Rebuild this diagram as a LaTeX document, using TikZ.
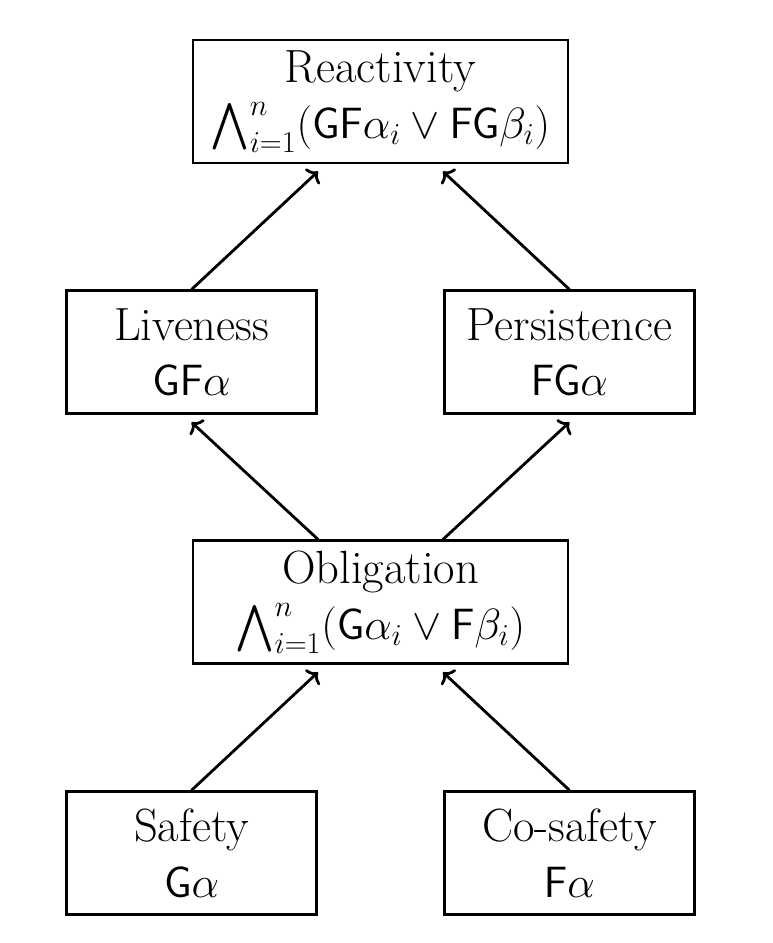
\documentclass[tikz,border=0pt]{standalone}
\usepackage{amsmath,amssymb}
\usepackage{tikz}
\usetikzlibrary{arrows.meta, positioning}

\begin{document}
\begin{tikzpicture}[node distance=2.5cm, auto]
    % Styles
    \tikzstyle{block} = [rectangle, draw, line width=1.6pt, minimum width=5cm, minimum height=2.46cm, align=center, font=\fontsize{26.5}{31.5}\selectfont]
    \tikzstyle{wide} = [block, minimum width=7.5cm]
    \tikzstyle{line} = [draw, -{To[length=5pt, width=12pt]}, line width=1.6pt]

    \useasboundingbox (0,0) rectangle (15.44,-18.86);

    % Nodes
    \node [wide] (react) at (7.61,-2.03) {Reactivity\\$\bigwedge_{i=1}^{n}(\mathsf{GF}\alpha_i \vee \mathsf{FG}\beta_i)$};
    \node [block, below=of react.south west] (live) {Liveness\\$\mathsf{GF}\alpha$};
    \node [block, below=of react.south east] (persist) {Persistence\\$\mathsf{FG}\alpha$};
    \node [wide, below=7.5cm of react] (oblig) {Obligation\\$\bigwedge_{i=1}^{n}(\mathsf{G}\alpha_i \vee \mathsf{F}\beta_i)$};
    \node [block, below=of oblig.south west] (safety) {Safety\\$\mathsf{G}\alpha$};
    \node [block, below=of oblig.south east] (cosafety) {Co-safety\\$\mathsf{F}\alpha$};

    % Paths
    \path [line] (live.north) -- ([yshift=-4pt]react.south -| live.east);
    \path [line] (persist.north) -- ([yshift=-4pt]react.south -| persist.west);
    \path [line] (oblig.north -| live.east) -- ([yshift=-4pt]live.south);
    \path [line] (oblig.north -| persist.west) -- ([yshift=-4pt]persist.south);
    \path [line] (safety.north) -- ([yshift=-4pt]oblig.south -| safety.east);
    \path [line] (cosafety.north) -- ([yshift=-4pt]oblig.south -| cosafety.west);
\end{tikzpicture}
\end{document}
